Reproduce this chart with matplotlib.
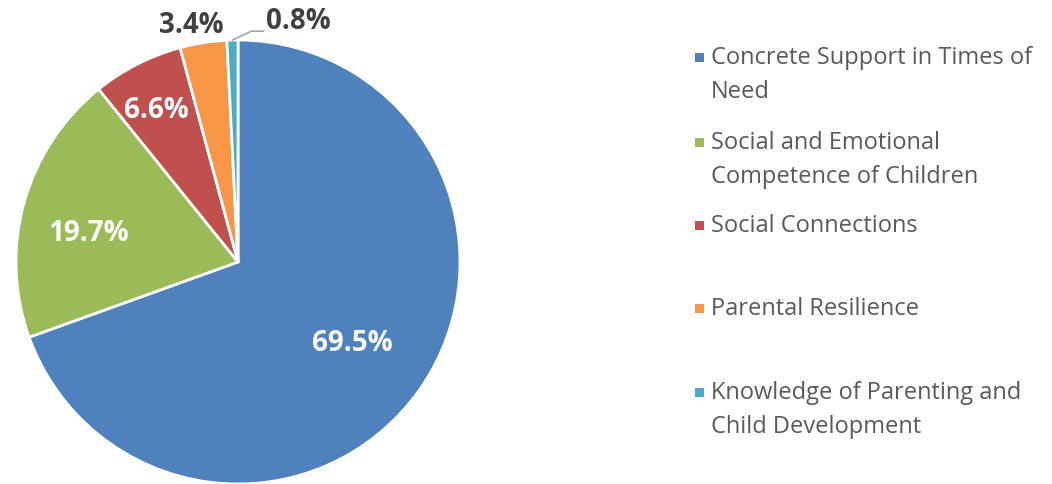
import numpy as np
import matplotlib.pyplot as plt
from matplotlib.patches import Rectangle

categories = ["Concrete Support in Times of\nNeed",
              "Social and Emotional\nCompetence of Children",
              "Social Connections",
              "Parental Resilience",
              "Knowledge of Parenting and\nChild Development"]
values = [69.5, 19.7, 6.6, 3.4, 0.8]
colors = ["#4F81BD", "#9BBB59", "#C0504D", "#F79646", "#4BACC6"]

plt.rcParams['font.family'] = ['Open Sans', 'DejaVu Sans']

W, H = 1052, 485
fig = plt.figure(figsize=(W / 100, H / 100), dpi=100)
cx, cy, r = 238, 263, 222
ax = fig.add_axes([(cx - r) / W, (H - cy - r) / H, 2 * r / W, 2 * r / H])

wedges, _ = ax.pie(values, colors=colors, startangle=90, counterclock=False,
                   radius=1, wedgeprops=dict(edgecolor="white", linewidth=2))
ax.set_xlim(-1, 1)
ax.set_ylim(-1, 1)
ax.set_aspect("equal")
ax.axis("off")

# label placement: (radius, angle nudge in degrees)
label_pos = [(0.63, 0), (0.687, 4.4), (0.78, 1.2), (1.092, 2)]
for w, v, (lr, da) in zip(wedges[:4], values[:4], label_pos):
    ang = np.deg2rad((w.theta1 + w.theta2) / 2 + da)
    col = "white" if lr < 1 else "#404040"
    ax.text(lr * np.cos(ang), lr * np.sin(ang), f"{v}%", ha="center", va="center",
            color=col, fontsize=20, fontweight="bold")

# smallest slice with leader line
w = wedges[4]
ang = np.deg2rad((w.theta1 + w.theta2) / 2)
x0, y0 = np.cos(ang), np.sin(ang)
ax.plot([x0, x0 + 0.085, x0 + 0.14], [y0, y0 + 0.04, y0 + 0.04],
        color="#A6A6A6", lw=1.2, clip_on=False)
ax.text(x0 + 0.15, y0 + 0.09, f"{values[4]}%", ha="left", va="center",
        color="#404040", fontsize=20, fontweight="bold")

# legend
leg_y = [58, 143, 226, 309, 393]
for cat, c, y in zip(categories, colors, leg_y):
    fig.patches.append(Rectangle((695 / W, (H - y - 4.5) / H), 8.5 / W, 8.5 / H,
                                 transform=fig.transFigure, facecolor=c, edgecolor="none"))
    for i, line in enumerate(cat.split("\n")):
        fig.text(711 / W, (H - y - i * 34) / H, line, ha="left", va="center",
                 fontsize=17, color="#595959")

fig.savefig("out.png", dpi=100)
